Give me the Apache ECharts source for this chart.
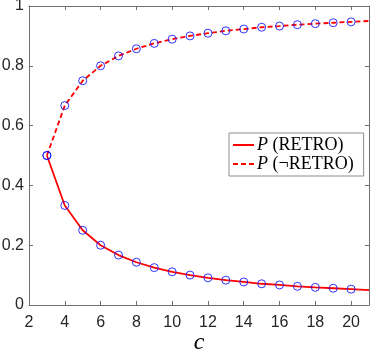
<!DOCTYPE html>
<html>
<head>
<meta charset="utf-8">
<script src="https://cdn.jsdelivr.net/npm/echarts@6/dist/echarts.min.js"></script>
<style>
    html, body { margin: 0; padding: 0; background: #fff; }
    #chart { width: 371px; height: 353px; }
</style>
</head>
<body>
<div id="chart"></div>
<script>
// values (c = 3 .. 21)
var cValues = [3, 4, 5, 6, 7, 8, 9, 10, 11, 12, 13, 14, 15, 16, 17, 18, 19, 20, 21];
var pRetro = [0.5, 0.333, 0.25, 0.2, 0.167, 0.143, 0.125, 0.111, 0.1, 0.091, 0.083, 0.077, 0.071, 0.067, 0.0625, 0.059, 0.056, 0.053, 0.05];
var pNotRetro = [0.5, 0.667, 0.75, 0.8, 0.833, 0.857, 0.875, 0.889, 0.9, 0.909, 0.917, 0.923, 0.929, 0.933, 0.9375, 0.941, 0.944, 0.947, 0.95];
// circles only drawn up to c = 20
var markerCount = 18;

var xTicks = [2, 4, 6, 8, 10, 12, 14, 16, 18, 20];
var yTicks = [0, 0.2, 0.4, 0.6, 0.8, 1];

var axisColor = '#707070';
var labelColor = '#262626';

function pairs(xs, ys, n) {
    var out = [];
    for (var i = 0; i < n; i++) {
        out.push([xs[i], ys[i]]);
    }
    return out;
}

let chart = echarts.init(document.getElementById('chart'));

var baseX = {
    type: 'value',
    min: 2,
    max: 21,
    interval: 2,
    axisLine: { show: true, onZero: false, lineStyle: { color: axisColor, width: 1 } },
    axisTick: { show: true, inside: true, length: 4, lineStyle: { color: axisColor } },
    splitLine: { show: false }
};
var baseY = {
    type: 'value',
    min: 0,
    max: 1,
    interval: 0.2,
    axisLine: { show: true, onZero: false, lineStyle: { color: axisColor, width: 1 } },
    axisTick: { show: true, inside: true, length: 4, lineStyle: { color: axisColor } },
    splitLine: { show: false }
};

var option = {
    animation: false,
    backgroundColor: '#fff',
    grid: { left: 29, right: 2, top: 6, bottom: 48, containLabel: false, outerBoundsMode: 'none' },
    legend: {
        data: ['P (RETRO)', 'P (¬RETRO)'],
        orient: 'vertical',
        left: 229,
        top: 133,
        itemWidth: 21,
        itemHeight: 10,
        itemGap: 1,
        padding: [3, 10, 3, 3],
        backgroundColor: '#fff',
        borderColor: '#8c8c8c',
        borderWidth: 1,
        itemStyle: { opacity: 0 },
        formatter: function (name) {
            return '{i|P} ' + name.slice(2);
        },
        textStyle: {
            fontFamily: 'Liberation Serif',
            fontSize: 18,
            color: '#000',
            padding: [0, 0, 0, -2],
            rich: {
                i: { fontFamily: 'Liberation Serif', fontStyle: 'italic', fontSize: 18, color: '#000' }
            }
        }
    },
    xAxis: [
        Object.assign({}, baseX, {
            name: 'c',
            nameLocation: 'middle',
            nameGap: 26,
            nameMoveOverlap: false,
            nameTextStyle: { fontFamily: 'Liberation Serif', fontStyle: 'italic', fontSize: 24, color: '#000' },
            axisLabel: {
                margin: 10,
                fontFamily: 'Liberation Sans',
                fontSize: 16,
                color: labelColor,
                showMaxLabel: false,
                formatter: function (v) { return xTicks.indexOf(v) >= 0 ? String(v) : ''; }
            }
        }),
        Object.assign({}, baseX, { position: 'top', axisLabel: { show: false } })
    ],
    yAxis: [
        Object.assign({}, baseY, {
            axisLabel: {
                margin: 5,
                fontFamily: 'Liberation Sans',
                fontSize: 16,
                color: labelColor,
                formatter: function (v) {
                    var t = yTicks.find(function (k) { return Math.abs(k - v) < 1e-9; });
                    return t === undefined ? '' : String(t);
                }
            }
        }),
        Object.assign({}, baseY, { position: 'right', axisLabel: { show: false } })
    ],
    series: [
        {
            name: 'P (RETRO)',
            type: 'line',
            data: pairs(cValues, pRetro, cValues.length),
            showSymbol: false,
            symbol: 'none',
            lineStyle: { color: '#ff0000', width: 1.8 },
            itemStyle: { color: '#ff0000' },
            z: 2
        },
        {
            name: 'P (¬RETRO)',
            type: 'line',
            data: pairs(cValues, pNotRetro, cValues.length),
            showSymbol: false,
            symbol: 'none',
            lineStyle: { color: '#ff0000', width: 1.8, type: [5, 3] },
            itemStyle: { color: '#ff0000' },
            z: 2
        },
        {
            name: 'pts1',
            type: 'scatter',
            data: pairs(cValues, pRetro, markerCount),
            symbol: 'circle',
            symbolSize: 8,
            itemStyle: { color: 'rgba(0,0,0,0)', borderColor: '#0000ff', borderWidth: 1 },
            z: 3
        },
        {
            name: 'pts2',
            type: 'scatter',
            data: pairs(cValues, pNotRetro, markerCount),
            symbol: 'circle',
            symbolSize: 8,
            itemStyle: { color: 'rgba(0,0,0,0)', borderColor: '#0000ff', borderWidth: 1 },
            z: 3
        }
    ]
};

chart.setOption(option);
</script>
</body>
</html>
